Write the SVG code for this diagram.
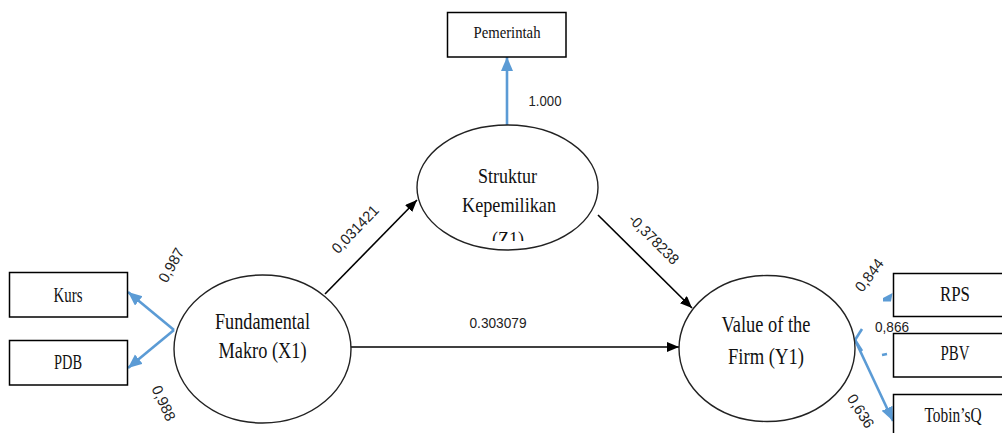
<svg xmlns="http://www.w3.org/2000/svg" width="1002" height="433" viewBox="0 0 1002 433">
<style>
.box{fill:#fff;stroke:#000;stroke-width:1.5}
.ell{fill:#fff;stroke:#222;stroke-width:1.4}
.t{font-family:"Liberation Serif","Times New Roman",serif;fill:#111;text-anchor:middle}
.n{font-family:"Liberation Sans",Arial,sans-serif;fill:#222;text-anchor:middle;font-size:15px}
.blk{stroke:#000;stroke-width:1.6;fill:none}
.blu{stroke:#5B9BD5;stroke-width:2.6;fill:none}
</style>
<defs>
<marker id="ab" markerUnits="userSpaceOnUse" markerWidth="13" markerHeight="11" refX="12" refY="5" orient="auto"><path d="M0,0 L12,5 L0,10 z" fill="#000"/></marker>
<marker id="au" markerUnits="userSpaceOnUse" markerWidth="15" markerHeight="13" refX="14" refY="6" orient="auto"><path d="M0,0 L14,6 L0,12 z" fill="#5B9BD5"/></marker>
<clipPath id="zc"><rect x="400" y="100" width="220" height="141"/></clipPath>
</defs>
<rect width="1002" height="433" fill="#fff"/>
<g id="connectors">
<line class="blk" x1="325" y1="294" x2="417" y2="200" marker-end="url(#ab)"/>
<line class="blk" x1="598" y1="215" x2="692" y2="308" marker-end="url(#ab)"/>
<line class="blk" x1="351" y1="347" x2="679" y2="347" marker-end="url(#ab)"/>
<line class="blu" x1="507" y1="125" x2="507" y2="57" marker-end="url(#au)"/>
<line class="blu" x1="174" y1="330" x2="128" y2="292" marker-end="url(#au)"/>
<line class="blu" x1="174" y1="330" x2="128" y2="368" marker-end="url(#au)"/>
<line class="blu" x1="855" y1="340" x2="893" y2="421" marker-end="url(#au)"/>
<line class="blu" x1="855" y1="340" x2="862" y2="329"/>
<line class="blu" x1="855" y1="340" x2="862" y2="351"/>
<polygon points="883,298 892.5,293 891,301.5 883,301.5" fill="#5B9BD5"/>
<line class="blu" x1="882" y1="355" x2="887" y2="354"/>
</g>
<g id="labels">
<text class="n" x="545" y="106" font-size="18" textLength="33" lengthAdjust="spacingAndGlyphs">1.000</text>
<text class="n" x="498" y="328" textLength="57" lengthAdjust="spacingAndGlyphs">0.303079</text>
<text class="n" transform="translate(355,229) rotate(-46)" dominant-baseline="central" textLength="60" lengthAdjust="spacingAndGlyphs">0,031421</text>
<text class="n" transform="translate(654,239) rotate(45)" dominant-baseline="central" textLength="64" lengthAdjust="spacingAndGlyphs">-0,378238</text>
<text class="n" transform="translate(171,265) rotate(-61)" dominant-baseline="central" textLength="37" lengthAdjust="spacingAndGlyphs">0,987</text>
<text class="n" transform="translate(164,403) rotate(65)" dominant-baseline="central" textLength="37" lengthAdjust="spacingAndGlyphs">0,988</text>
<text class="n" transform="translate(869,275) rotate(-53)" dominant-baseline="central" textLength="37" lengthAdjust="spacingAndGlyphs">0,844</text>
<text class="n" transform="translate(861,411) rotate(58)" dominant-baseline="central" textLength="37" lengthAdjust="spacingAndGlyphs">0,636</text>
</g>
<g id="pemerintah"><rect class="box" x="447.5" y="12.5" width="118.5" height="44.5"/><text class="t" x="507" y="38" font-size="17" textLength="67" lengthAdjust="spacingAndGlyphs">Pemerintah</text></g>
<g id="kurs"><rect class="box" x="9.5" y="272.5" width="118" height="44.5"/><text class="t" x="68" y="302" font-size="21" textLength="29" lengthAdjust="spacingAndGlyphs">Kurs</text></g>
<g id="pdb"><rect class="box" x="9.5" y="340.5" width="118" height="44.5"/><text class="t" x="68" y="369" font-size="21" textLength="28" lengthAdjust="spacingAndGlyphs">PDB</text></g>
<g id="rps"><rect class="box" x="893.5" y="273.5" width="115" height="43"/><text class="t" x="955" y="301" font-size="21" textLength="30" lengthAdjust="spacingAndGlyphs">RPS</text></g>
<g id="pbv"><rect class="box" x="893.5" y="333.5" width="115" height="43.5"/><text class="t" x="955" y="360" font-size="21" textLength="29" lengthAdjust="spacingAndGlyphs">PBV</text></g>
<g id="tobinsq"><rect class="box" x="893.5" y="394.5" width="115" height="50"/><text class="t" x="953" y="422" font-size="21" textLength="57" lengthAdjust="spacingAndGlyphs">Tobin’sQ</text></g>
<text class="n" x="892" y="332" textLength="34" lengthAdjust="spacingAndGlyphs">0,866</text>
<g id="struktur"><ellipse class="ell" cx="507.5" cy="187.5" rx="90.5" ry="62.5"/>
<text class="t" x="507.5" y="183" font-size="22" textLength="59" lengthAdjust="spacingAndGlyphs">Struktur</text>
<text class="t" x="509" y="212" font-size="22" textLength="94" lengthAdjust="spacingAndGlyphs">Kepemilikan</text>
<text class="t" x="508" y="246" font-size="22" textLength="32" lengthAdjust="spacingAndGlyphs" clip-path="url(#zc)">(Z1)</text></g>
<g id="fundamental"><ellipse class="ell" cx="262.5" cy="349" rx="88.5" ry="74"/>
<text class="t" x="262.5" y="329" font-size="23" textLength="95" lengthAdjust="spacingAndGlyphs">Fundamental</text>
<text class="t" x="262.5" y="358" font-size="23" textLength="88" lengthAdjust="spacingAndGlyphs">Makro (X1)</text></g>
<g id="value"><ellipse class="ell" cx="767" cy="348.5" rx="88" ry="73"/>
<text class="t" x="766" y="332" font-size="23" textLength="89" lengthAdjust="spacingAndGlyphs">Value of the</text>
<text class="t" x="766" y="364" font-size="23" textLength="76" lengthAdjust="spacingAndGlyphs">Firm (Y1)</text></g>
</svg>
